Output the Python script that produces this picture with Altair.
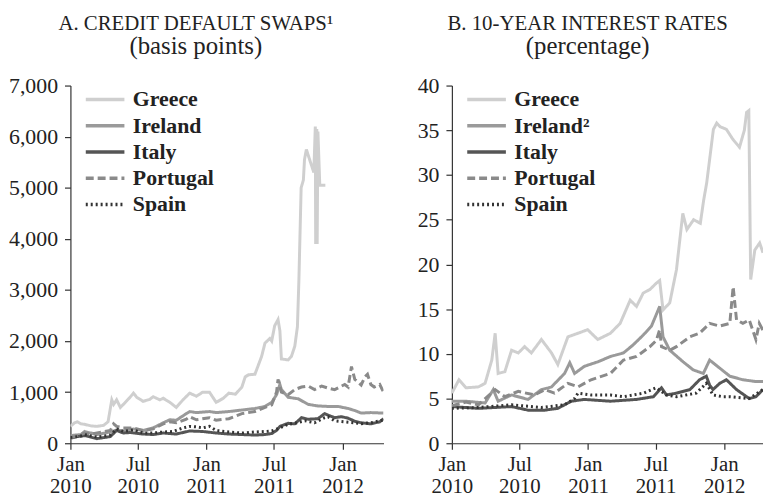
import altair as alt
import pandas as pd

countries = ["Greece", "Ireland", "Italy", "Portugal", "Spain"]
line_colors = ["#cfcfcf", "#9a9a9a", "#555555", "#8a8a8a", "#333333"]
line_dashes = [[1, 0], [1, 0], [1, 0], [8, 4], [2, 3]]

# ---- Panel A: credit default swaps (basis points) ----
cds_greece = [
    ("2010-01-01", 330), ("2010-01-12", 400), ("2010-01-20", 420), ("2010-01-29", 380),
    ("2010-02-08", 370), ("2010-02-25", 340), ("2010-03-13", 330), ("2010-03-31", 350),
    ("2010-04-12", 420), ("2010-04-22", 850), ("2010-04-27", 760), ("2010-05-05", 850),
    ("2010-05-15", 700), ("2010-05-23", 760), ("2010-06-10", 900), ("2010-06-19", 980),
    ("2010-06-28", 900), ("2010-07-15", 820), ("2010-08-02", 860), ("2010-08-11", 910),
    ("2010-08-29", 850), ("2010-09-07", 880), ("2010-09-25", 800), ("2010-10-12", 700),
    ("2010-10-30", 850), ("2010-11-17", 980), ("2010-12-05", 920), ("2010-12-22", 1000),
    ("2011-01-09", 1000), ("2011-01-27", 800), ("2011-02-15", 880), ("2011-03-02", 980),
    ("2011-03-20", 960), ("2011-04-06", 1100), ("2011-04-15", 1300), ("2011-04-24", 1340),
    ("2011-05-11", 1350), ("2011-05-29", 1700), ("2011-06-07", 1960), ("2011-06-20", 2050),
    ("2011-06-25", 2000), ("2011-07-03", 2300), ("2011-07-12", 2420), ("2011-07-17", 2200),
    ("2011-07-21", 1650), ("2011-08-08", 1630), ("2011-08-17", 1700), ("2011-08-26", 1900),
    ("2011-09-02", 2280), ("2011-09-06", 3200), ("2011-09-12", 5000), ("2011-09-18", 5150),
    ("2011-09-21", 5550), ("2011-09-26", 5750), ("2011-10-07", 5500), ("2011-10-16", 5300),
    ("2011-10-20", 6200), ("2011-10-21", 3900), ("2011-10-24", 6150), ("2011-10-25", 3900),
    ("2011-10-27", 6100), ("2011-11-01", 5050), ("2011-11-16", 5050),
]
cds_ireland = [
    ("2010-01-01", 150), ("2010-01-29", 170), ("2010-02-08", 230), ("2010-03-13", 170),
    ("2010-04-18", 220), ("2010-05-05", 260), ("2010-05-23", 240), ("2010-06-19", 280),
    ("2010-07-15", 250), ("2010-08-11", 300), ("2010-09-07", 400), ("2010-09-25", 460),
    ("2010-10-12", 450), ("2010-11-08", 580), ("2010-11-17", 620), ("2010-12-05", 600),
    ("2011-01-09", 620), ("2011-01-27", 600), ("2011-03-02", 620), ("2011-04-06", 650),
    ("2011-05-11", 680), ("2011-06-07", 720), ("2011-06-25", 800), ("2011-07-08", 950),
    ("2011-07-17", 1150), ("2011-07-21", 1050), ("2011-08-08", 900), ("2011-09-04", 870),
    ("2011-10-01", 760), ("2011-10-27", 730), ("2011-11-23", 720), ("2011-12-20", 720),
    ("2012-01-16", 680), ("2012-02-03", 640), ("2012-02-20", 590), ("2012-03-17", 600),
    ("2012-04-20", 590),
]
cds_italy = [
    ("2010-01-01", 100), ("2010-01-20", 130), ("2010-02-08", 150), ("2010-03-13", 90),
    ("2010-04-18", 130), ("2010-05-05", 250), ("2010-05-23", 200), ("2010-06-10", 210),
    ("2010-07-15", 180), ("2010-08-11", 170), ("2010-09-07", 200), ("2010-10-12", 180),
    ("2010-11-17", 240), ("2010-12-22", 230), ("2011-01-27", 200), ("2011-03-02", 180),
    ("2011-04-06", 170), ("2011-05-11", 160), ("2011-06-07", 170), ("2011-06-25", 190),
    ("2011-07-08", 250), ("2011-07-17", 330), ("2011-08-08", 390), ("2011-08-26", 380),
    ("2011-09-13", 500), ("2011-10-01", 470), ("2011-10-27", 480), ("2011-11-14", 580),
    ("2011-11-23", 550), ("2011-12-11", 500), ("2011-12-29", 520), ("2012-01-16", 490),
    ("2012-02-03", 430), ("2012-02-20", 400), ("2012-03-17", 380), ("2012-04-10", 420),
    ("2012-04-20", 480),
]
cds_portugal = [
    ("2010-01-01", 100), ("2010-02-08", 200), ("2010-02-25", 180), ("2010-04-18", 250),
    ("2010-04-27", 380), ("2010-05-05", 330), ("2010-05-23", 300), ("2010-06-19", 300),
    ("2010-07-15", 250), ("2010-08-11", 280), ("2010-09-07", 380), ("2010-09-25", 420),
    ("2010-10-12", 400), ("2010-11-08", 470), ("2010-11-17", 520), ("2010-12-05", 460),
    ("2011-01-09", 500), ("2011-01-27", 450), ("2011-03-02", 480), ("2011-03-20", 530),
    ("2011-04-06", 580), ("2011-05-11", 620), ("2011-06-07", 700), ("2011-06-25", 750),
    ("2011-07-08", 1000), ("2011-07-12", 1250), ("2011-07-21", 1000), ("2011-08-08", 950),
    ("2011-08-26", 1050), ("2011-09-13", 1100), ("2011-10-01", 1120), ("2011-10-18", 1050),
    ("2011-11-06", 1120), ("2011-11-23", 1080), ("2011-12-11", 1050), ("2012-01-07", 1150),
    ("2012-01-16", 1100), ("2012-01-25", 1500), ("2012-02-03", 1250), ("2012-02-20", 1140),
    ("2012-03-01", 1300), ("2012-03-08", 1350), ("2012-03-17", 1150), ("2012-03-26", 1100),
    ("2012-04-10", 1150), ("2012-04-20", 1000),
]
cds_spain = [
    ("2010-01-01", 110), ("2010-01-29", 140), ("2010-02-08", 170), ("2010-03-13", 120),
    ("2010-04-18", 160), ("2010-05-05", 280), ("2010-05-23", 230), ("2010-06-19", 260),
    ("2010-07-15", 200), ("2010-08-11", 200), ("2010-09-07", 220), ("2010-10-03", 230),
    ("2010-10-30", 300), ("2010-11-17", 330), ("2010-12-05", 320), ("2010-12-22", 300),
    ("2011-01-09", 330), ("2011-01-27", 250), ("2011-03-02", 220), ("2011-04-06", 200),
    ("2011-05-11", 220), ("2011-06-07", 230), ("2011-06-25", 240), ("2011-07-17", 300),
    ("2011-08-08", 370), ("2011-08-26", 390), ("2011-09-22", 440), ("2011-10-18", 400),
    ("2011-11-14", 500), ("2011-11-23", 520), ("2011-12-11", 440), ("2012-01-07", 420),
    ("2012-02-03", 400), ("2012-02-20", 380), ("2012-03-17", 400), ("2012-04-16", 450),
    ("2012-04-20", 460),
]

# ---- Panel B: 10-year interest rates (percentage) ----
yld_greece = [
    ("2010-01-01", 5.6), ("2010-01-20", 7.1), ("2010-02-08", 6.2), ("2010-03-13", 6.3),
    ("2010-03-31", 6.7), ("2010-04-18", 9.3), ("2010-04-27", 12.3), ("2010-05-05", 7.8),
    ("2010-05-23", 8.0), ("2010-06-10", 10.4), ("2010-06-28", 10.1), ("2010-07-15", 10.8),
    ("2010-08-02", 10.1), ("2010-08-29", 11.6), ("2010-09-25", 10.1), ("2010-10-12", 8.8),
    ("2010-11-08", 11.9), ("2010-12-05", 12.3), ("2010-12-31", 12.7), ("2011-01-27", 11.6),
    ("2011-03-02", 12.3), ("2011-03-28", 13.4), ("2011-04-24", 16.0), ("2011-05-11", 15.3),
    ("2011-05-29", 16.8), ("2011-06-16", 17.2), ("2011-07-03", 17.9), ("2011-07-12", 18.2),
    ("2011-07-21", 14.9), ("2011-08-08", 15.7), ("2011-08-26", 19.4), ("2011-09-12", 25.7),
    ("2011-09-23", 23.9), ("2011-10-11", 25.0), ("2011-10-29", 24.6), ("2011-11-07", 27.2),
    ("2011-11-15", 29.1), ("2011-12-03", 35.1), ("2011-12-12", 35.8), ("2011-12-21", 35.4),
    ("2012-01-07", 35.1), ("2012-01-24", 34.0), ("2012-02-11", 33.1), ("2012-02-24", 35.0),
    ("2012-03-01", 37.0), ("2012-03-07", 37.2), ("2012-03-12", 18.3), ("2012-03-23", 21.6),
    ("2012-04-05", 22.4), ("2012-04-14", 21.3),
]
yld_ireland = [
    ("2010-01-01", 4.7), ("2010-02-08", 4.7), ("2010-03-31", 4.5), ("2010-04-22", 6.0),
    ("2010-05-05", 4.7), ("2010-06-10", 5.4), ("2010-07-24", 4.9), ("2010-08-29", 6.0),
    ("2010-09-25", 6.3), ("2010-10-30", 7.8), ("2010-11-13", 9.0), ("2010-11-26", 7.8),
    ("2010-12-22", 8.6), ("2011-01-27", 9.1), ("2011-03-02", 9.7), ("2011-04-06", 10.1),
    ("2011-05-02", 11.0), ("2011-05-29", 12.1), ("2011-06-20", 13.1), ("2011-07-12", 15.3),
    ("2011-07-21", 11.9), ("2011-08-08", 10.4), ("2011-09-13", 9.1), ("2011-10-10", 8.2),
    ("2011-11-06", 7.8), ("2011-11-23", 9.3), ("2011-12-20", 8.4), ("2012-01-16", 7.5),
    ("2012-02-20", 7.1), ("2012-03-26", 6.9), ("2012-04-14", 6.9),
]
yld_italy = [
    ("2010-01-01", 4.1), ("2010-03-13", 3.9), ("2010-06-10", 4.1), ("2010-07-24", 3.7),
    ("2010-09-07", 3.7), ("2010-10-12", 3.9), ("2010-11-17", 4.7), ("2010-12-22", 4.9),
    ("2011-03-02", 4.7), ("2011-05-11", 4.9), ("2011-06-25", 5.2), ("2011-07-17", 6.2),
    ("2011-07-30", 5.4), ("2011-08-26", 5.6), ("2011-10-01", 6.0), ("2011-10-27", 7.1),
    ("2011-11-14", 7.5), ("2011-11-23", 6.5), ("2011-12-02", 6.0), ("2011-12-20", 6.7),
    ("2012-01-07", 7.1), ("2012-02-03", 6.0), ("2012-03-08", 5.0), ("2012-03-26", 5.2),
    ("2012-04-14", 6.0),
]
yld_portugal = [
    ("2010-01-01", 4.2), ("2010-02-08", 4.6), ("2010-03-13", 4.3), ("2010-04-27", 6.0),
    ("2010-05-23", 5.2), ("2010-06-28", 5.8), ("2010-08-11", 5.4), ("2010-09-07", 6.0),
    ("2010-10-03", 5.6), ("2010-11-08", 6.7), ("2010-12-05", 6.3), ("2011-01-09", 7.1),
    ("2011-03-02", 7.8), ("2011-04-06", 9.3), ("2011-05-11", 9.7), ("2011-06-16", 10.8),
    ("2011-07-03", 11.5), ("2011-07-12", 12.7), ("2011-07-17", 10.8), ("2011-08-08", 10.4),
    ("2011-08-26", 10.8), ("2011-10-01", 11.9), ("2011-10-27", 12.3), ("2011-11-23", 13.4),
    ("2011-12-20", 13.1), ("2012-01-16", 13.4), ("2012-01-25", 17.5), ("2012-02-03", 13.8),
    ("2012-02-20", 13.4), ("2012-03-08", 13.8), ("2012-03-26", 11.6), ("2012-04-04", 13.4),
    ("2012-04-14", 12.6),
]
yld_spain = [
    ("2010-01-01", 3.9), ("2010-03-13", 4.0), ("2010-06-10", 4.3), ("2010-08-29", 4.0),
    ("2010-10-30", 4.3), ("2010-11-26", 5.0), ("2010-12-05", 5.6), ("2011-01-09", 5.4),
    ("2011-03-02", 5.4), ("2011-04-06", 5.2), ("2011-05-29", 5.6), ("2011-07-03", 6.2),
    ("2011-07-30", 5.4), ("2011-08-26", 5.2), ("2011-10-18", 5.6), ("2011-11-14", 6.7),
    ("2011-12-02", 5.4), ("2011-12-29", 5.2), ("2012-01-16", 5.2), ("2012-03-08", 5.0),
    ("2012-04-14", 6.0),
]

x_tick_dates = [(2010, 1), (2010, 7), (2011, 1), (2011, 7), (2012, 1)]


def frame(series):
    rows = []
    for name, pts in zip(countries, series):
        for d, v in pts:
            rows.append({"country": name, "date": d, "value": v})
    return pd.DataFrame(rows)


cds_df = frame([cds_greece, cds_ireland, cds_italy, cds_portugal, cds_spain])
yld_df = frame([yld_greece, yld_ireland, yld_italy, yld_portugal, yld_spain])

FONT = "Liberation Serif"


def panel(df, title, subtitle, ymax, ystep, yfmt, end, extent, width, label_expr):
    legend = alt.Legend(
        title=None, orient="none", legendX=20, legendY=-1, direction="vertical",
        symbolType="M-1.5,0H1.5", symbolSize=676, symbolStrokeWidth=3.5,
        labelFont=FONT, labelFontSize=22, labelFontWeight="bold", labelColor="#222",
        labelOffset=13, rowPadding=0.5, padding=0, labelExpr=label_expr,
    )
    x = alt.X(
        "date:T",
        scale=alt.Scale(type="utc", domain=[alt.DateTime(year=2010, month=1, date=1, utc=True), end]),
        axis=alt.Axis(
            title=None, grid=False,
            values=[alt.DateTime(year=y, month=m, date=1, utc=True) for y, m in x_tick_dates],
            labelExpr="[utcFormat(datum.value, '%b'), utcFormat(datum.value, '%Y')]",
            labelFontSize=21, labelLineHeight=22, labelPadding=5, labelAlign="center",
        ),
    )
    y = alt.Y(
        "value:Q",
        scale=alt.Scale(domain=[0, ymax], nice=False),
        axis=alt.Axis(
            title=None, grid=False, values=list(range(0, ymax + 1, ystep)), format=yfmt,
            minExtent=extent, maxExtent=extent, labelPadding=7, labelFontSize=22,
        ),
    )
    return alt.Chart(df).mark_line(strokeWidth=3, clip=True).encode(
        x=x, y=y,
        color=alt.Color("country:N", scale=alt.Scale(domain=countries, range=line_colors), legend=legend),
        strokeDash=alt.StrokeDash("country:N", scale=alt.Scale(domain=countries, range=line_dashes), legend=legend),
        order="date:T",
    ).properties(
        width=width, height=361,
        title=alt.TitleParams(
            text=title, subtitle=subtitle, font=FONT, fontSize=21, fontWeight="normal",
            color="#222", subtitleFont=FONT, subtitleFontSize=25, subtitleColor="#222",
            anchor="middle", frame="bounds", subtitlePadding=0, offset=16,
        ),
    )


left = panel(cds_df, "A. CREDIT DEFAULT SWAPS¹", "(basis points)", 7000, 1000, ",d",
             alt.DateTime(year=2012, month=4, date=20, utc=True), 63, 316, "datum.label")
right = panel(yld_df, "B. 10-YEAR INTEREST RATES", "(percentage)", 40, 5, "d",
              alt.DateTime(year=2012, month=4, date=14, utc=True), 40, 314,
              "datum.label == 'Ireland' ? 'Ireland²' : datum.label")

chart = alt.hconcat(left, right, spacing=29).resolve_scale(
    x="independent", y="independent"
).resolve_legend(color="independent", strokeDash="independent").properties(
    padding={"left": 0, "top": 3, "right": 0, "bottom": 0}
).configure_view(stroke=None).configure_axis(
    domainColor="#333", domainWidth=1.2, tickColor="#333", tickWidth=1.2, tickSize=6,
    labelFont=FONT, labelColor="#222",
)

chart.save("out.html", embed_options={"renderer": "svg", "actions": False})
